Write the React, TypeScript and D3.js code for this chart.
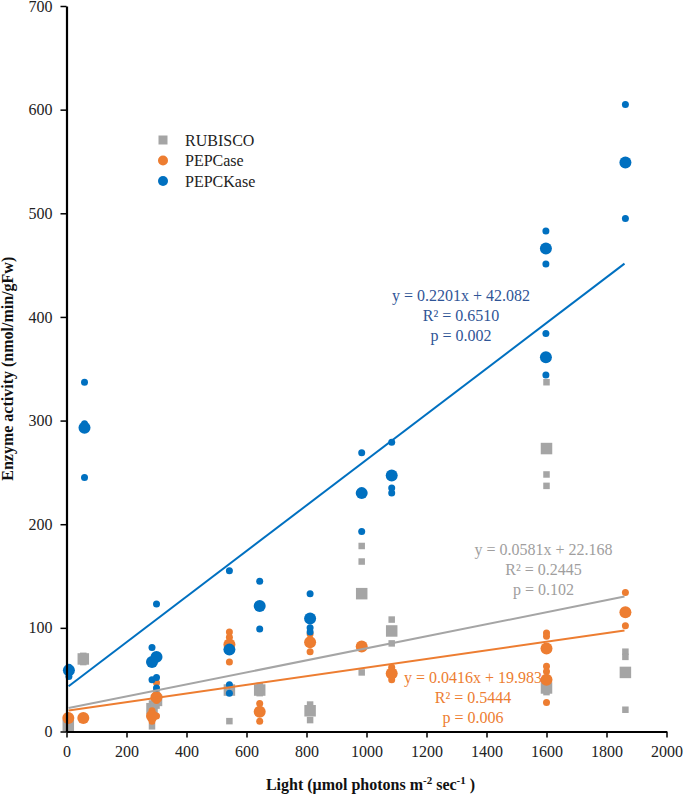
import React, { useEffect, useRef } from "react";
import * as d3 from "d3";

// mean values (large markers) and replicate values (small markers), [light, activity]
const rubiscoMeans: [number, number][] = [
  [6, 6], [56, 70], [285, 22], [300, 30], [543, 40], [644, 40], [812, 20],
  [984, 133], [1084, 97], [1600, 273], [1600, 42], [1863, 57],
];
const rubiscoReps: [number, number][] = [
  [6, 3], [56, 73], [56, 67], [285, 27], [285, 5], [300, 38], [300, 25],
  [543, 10], [543, 42], [644, 37], [644, 44], [812, 26], [812, 11],
  [984, 179], [984, 164], [984, 57], [1084, 108], [1084, 85],
  [1600, 337], [1600, 248], [1600, 237], [1600, 47], [1600, 38],
  [1863, 77], [1863, 72], [1863, 21],
];
const pepcaseMeans: [number, number][] = [
  [6, 13], [56, 13], [285, 15], [300, 33], [543, 84], [644, 19], [812, 86],
  [984, 82], [1084, 56], [1600, 80], [1600, 50], [1863, 115],
];
const pepcaseReps: [number, number][] = [
  [285, 10], [285, 20], [300, 15], [300, 47], [300, 30],
  [543, 96], [543, 91], [543, 67], [644, 27], [644, 10],
  [812, 94], [812, 77], [1084, 62], [1084, 50],
  [1600, 95], [1600, 92], [1600, 63], [1600, 58], [1600, 28],
  [1863, 134], [1863, 102],
];
const pepckMeans: [number, number][] = [
  [8, 59], [60, 293], [285, 67], [300, 72], [543, 79], [644, 121], [812, 109],
  [984, 230], [1084, 247], [1598, 466], [1598, 361], [1863, 549],
];
const pepckReps: [number, number][] = [
  [8, 53], [8, 62], [60, 297], [60, 245], [60, 337], [285, 81], [285, 50],
  [300, 123], [300, 52], [300, 42], [543, 155], [543, 45], [543, 37],
  [644, 145], [644, 99], [812, 133], [812, 100], [812, 96],
  [984, 269], [984, 193], [1084, 279], [1084, 235], [1084, 230],
  [1598, 483], [1598, 451], [1598, 384], [1598, 344], [1863, 605], [1863, 495],
];

// trendlines: slope, intercept, equation text
const trends = [
  { name: "RUBISCO", slope: 0.0581, intercept: 22.168, color: "#A5A5A5", textColor: "#A09E9E",
    lines: ["y = 0.0581x + 22.168", "R² = 0.2445", "p = 0.102"], at: [1590, 170] },
  { name: "PEPCase", slope: 0.0416, intercept: 19.983, color: "#ED7D31", textColor: "#ED7D31",
    lines: ["y = 0.0416x + 19.983", "R² = 0.5444", "p = 0.006"], at: [1355, 47] },
  { name: "PEPCKase", slope: 0.2201, intercept: 42.082, color: "#0070C0", textColor: "#2F5597",
    lines: ["y = 0.2201x + 42.082", "R² = 0.6510", "p = 0.002"], at: [1315, 415] },
];
const trendRange = [7, 1860];

const xTicks = [0, 200, 400, 600, 800, 1000, 1200, 1400, 1600, 1800, 2000];
const yTicks = [0, 100, 200, 300, 400, 500, 600, 700];

const W = 685, H = 796;
const margin = { top: 6, right: 18.5, bottom: 64.5, left: 66.5 };
const font = "Liberation Serif, Times New Roman, serif";

export default function App() {
  const gxRef = useRef<SVGGElement>(null);
  const gyRef = useRef<SVGGElement>(null);

  const innerW = W - margin.left - margin.right;
  const innerH = H - margin.top - margin.bottom;
  const x = d3.scaleLinear().domain([0, 2000]).range([0, innerW]);
  const y = d3.scaleLinear().domain([0, 700]).range([innerH, 0]);

  useEffect(() => {
    const gx = d3.select(gxRef.current!);
    gx.selectAll("*").remove();
    gx.call(d3.axisBottom(x).tickValues(xTicks).tickFormat(d3.format("d") as any)
      .tickSize(6).tickPadding(8).tickSizeOuter(0) as any);
    gx.attr("font-family", font).attr("font-size", 16);
    gx.select(".domain").attr("stroke-width", 2.2);
    gx.selectAll(".tick line").attr("stroke-width", 1.5);
    gx.selectAll("text").attr("fill", "#222");

    const gy = d3.select(gyRef.current!);
    gy.selectAll("*").remove();
    gy.call(d3.axisLeft(y).tickValues(yTicks).tickFormat(d3.format("d") as any)
      .tickSize(6).tickPadding(8).tickSizeOuter(0) as any);
    gy.attr("font-family", font).attr("font-size", 16);
    gy.select(".domain").attr("stroke-width", 2.2);
    gy.selectAll(".tick line").attr("stroke-width", 1.5);
    gy.selectAll("text").attr("fill", "#222");
  }, []);

  const square = (d: [number, number], s: number, color: string, key: string) => (
    <rect key={key} x={x(d[0]) - s / 2} y={y(d[1]) - s / 2} width={s} height={s} fill={color} />
  );
  const circle = (d: [number, number], r: number, color: string, key: string) => (
    <circle key={key} cx={x(d[0])} cy={y(d[1])} r={r} fill={color} />
  );

  const legend = [
    { label: "RUBISCO", color: "#A5A5A5", shape: "square" },
    { label: "PEPCase", color: "#ED7D31", shape: "circle" },
    { label: "PEPCKase", color: "#0070C0", shape: "circle" },
  ];

  return (
    <svg width={W} height={H} style={{ position: "absolute", left: 0, top: 0, background: "#fff" }}>
      <g transform={`translate(${margin.left},${margin.top})`}>
        {/* RUBISCO */}
        {rubiscoReps.map((d, i) => square(d, 6.5, "#A5A5A5", "rr" + i))}
        {rubiscoMeans.map((d, i) => square(d, 11.5, "#A5A5A5", "rm" + i))}
        {/* PEPCase */}
        {pepcaseReps.map((d, i) => circle(d, 3.5, "#ED7D31", "pr" + i))}
        {pepcaseMeans.map((d, i) => circle(d, 6, "#ED7D31", "pm" + i))}
        {/* PEPCKase */}
        {pepckReps.map((d, i) => circle(d, 3.5, "#0070C0", "kr" + i))}
        {pepckMeans.map((d, i) => circle(d, 6, "#0070C0", "km" + i))}

        {trends.map((t) => (
          <line key={t.name}
            x1={x(trendRange[0])} y1={y(t.slope * trendRange[0] + t.intercept)}
            x2={x(trendRange[1])} y2={y(t.slope * trendRange[1] + t.intercept)}
            stroke={t.color} strokeWidth={2} />
        ))}
        {trends.map((t) => (
          <text key={t.name + "txt"} x={x(t.at[0])} y={y(t.at[1])} fill={t.textColor}
            fontFamily={font} fontSize={16} textAnchor="middle">
            {t.lines.map((l, i) => (
              <tspan key={i} x={x(t.at[0])} dy={i === 0 ? 0 : 20}>{l}</tspan>
            ))}
          </text>
        ))}

        <g ref={gxRef} transform={`translate(0,${innerH})`} />
        <g ref={gyRef} />
      </g>

      {legend.map((l, i) => (
        <g key={l.label} transform={`translate(163,${140 + i * 20.5})`}>
          {l.shape === "square"
            ? <rect x={-4.5} y={-4.5} width={9} height={9} fill={l.color} />
            : <circle r={5} fill={l.color} />}
          <text x={22} y={0} dy="0.35em" fontFamily={font} fontSize={16} fill="#222">{l.label}</text>
        </g>
      ))}

      <text transform={`translate(13,${margin.top + innerH / 2}) rotate(-90)`} textAnchor="middle"
        fontFamily={font} fontSize={16} fontWeight="bold" fill="#111">
        Enzyme activity (nmol/min/gFw)
      </text>
      <text x={margin.left + innerW / 2 + 4} y={790} textAnchor="middle"
        fontFamily={font} fontSize={16} fontWeight="bold" fill="#111">
        Light (μmol photons m<tspan fontSize={11} dy={-6}>-2</tspan>
        <tspan dy={6}> sec</tspan><tspan fontSize={11} dy={-6}>-1</tspan><tspan dy={6}> )</tspan>
      </text>
    </svg>
  );
}
